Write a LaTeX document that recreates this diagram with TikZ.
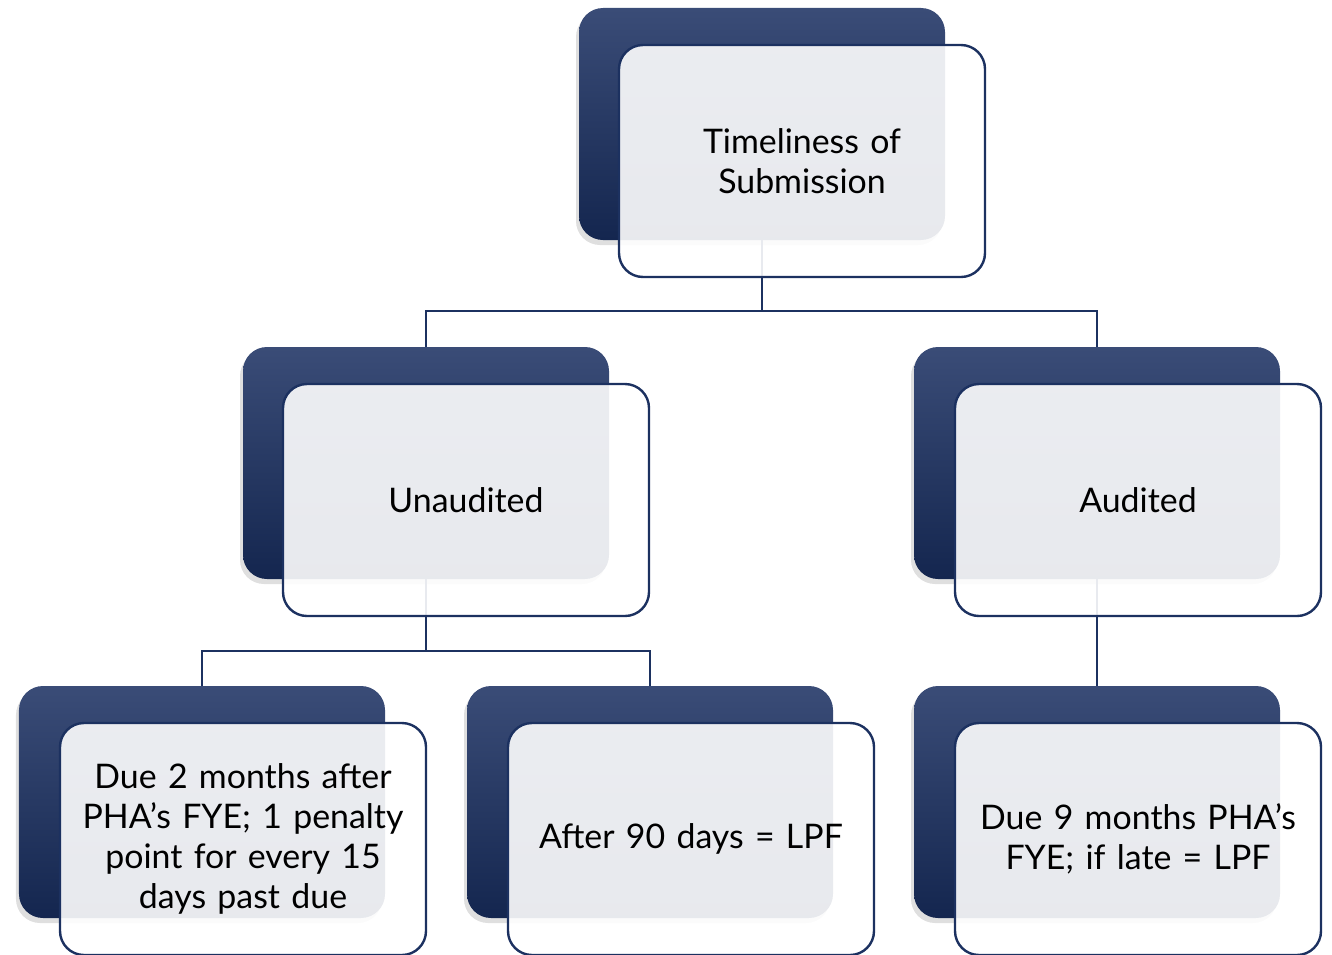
\documentclass[tikz,border=0pt]{standalone}
\usepackage{fontspec}
\setmainfont{Lato}
\usetikzlibrary{shadows}
\definecolor{navytop}{HTML}{3A4C77}
\definecolor{navybot}{HTML}{14264F}
\definecolor{navyline}{HTML}{1C3160}
\tikzset{
  darkbox/.style={rectangle, rounded corners=24bp, minimum width=366bp, minimum height=232bp,
    inner sep=0pt, top color=navytop, bottom color=navybot,
    drop shadow={shadow xshift=-3bp, shadow yshift=-5bp, opacity=0.25}},
  textbox/.style={rectangle, rounded corners=24bp, minimum width=366bp, minimum height=232bp,
    inner sep=0pt, draw=navyline, line width=2.4bp, fill=white, fill opacity=0.9, text opacity=1,
    align=center, text width=340bp, font=\fontsize{34}{40}\selectfont},
  conn/.style={draw=navyline, line width=2.5bp}
}
\begin{document}
\begin{tikzpicture}[x=1bp,y=-1bp]
\useasboundingbox (0,0) rectangle (1332,954);
\clip (0,0) rectangle (1332,954);
% dark boxes
\node[darkbox] (d0) at (762,124) {};
\node[darkbox] (d1) at (426,463) {};
\node[darkbox] (d2) at (1097,463) {};
\node[darkbox] (d3) at (202,802) {};
\node[darkbox] (d4) at (650,802) {};
\node[darkbox] (d5) at (1097,802) {};
% junctions
\coordinate (j0) at (762,311);
\coordinate (j1) at (426,651);
% connectors
\draw[conn] (d0.south) -- (j0) -| (d1.north);
\draw[conn] (j0) -| (d2.north);
\draw[conn] (d1.south) -- (j1) -| (d3.north);
\draw[conn] (j1) -| (d4.north);
\draw[conn] (d2.south) -- (d5.north);
% text boxes
\node[textbox] (t0) at (802,161) {Timeliness of\\Submission};
\node[textbox] (t1) at (466,500) {Unaudited};
\node[textbox] (t2) at (1138,500) {Audited};
\node[textbox] (t3) at (243,839) {Due 2 months after\\PHA’s FYE; 1 penalty\\point for every 15\\days past due};
\node[textbox] (t4) at (691,839) {After 90 days = LPF};
\node[textbox] (t5) at (1138,839) {Due 9 months PHA’s\\FYE; if late = LPF};
\end{tikzpicture}
\end{document}
